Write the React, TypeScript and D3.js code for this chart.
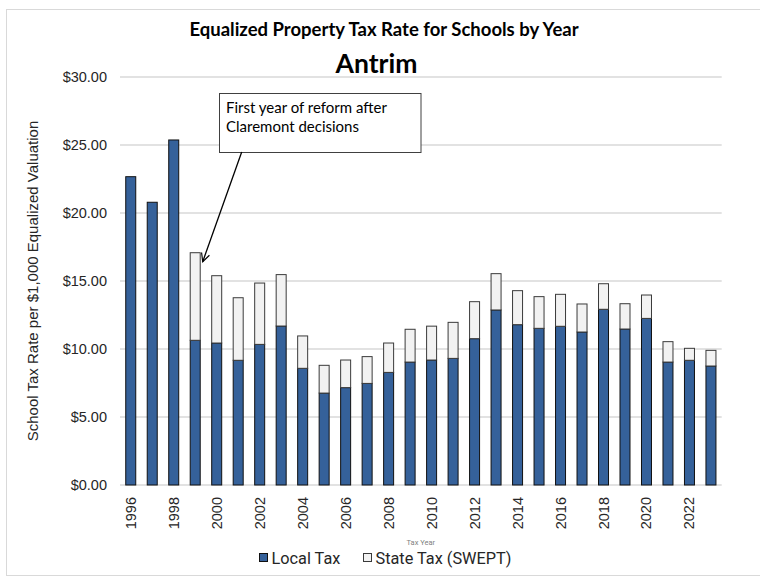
import React from "react";
import * as d3 from "d3";

const years = [
  1996, 1997, 1998, 1999, 2000, 2001, 2002, 2003, 2004, 2005, 2006, 2007, 2008, 2009,
  2010, 2011, 2012, 2013, 2014, 2015, 2016, 2017, 2018, 2019, 2020, 2021, 2022, 2023,
];
const localTax = [
  22.67, 20.79, 25.37, 10.64, 10.44, 9.17, 10.34, 11.69, 8.58, 6.76, 7.16, 7.47, 8.28, 9.04,
  9.19, 9.31, 10.76, 12.87, 11.79, 11.52, 11.67, 11.25, 12.92, 11.47, 12.25, 9.04, 9.17, 8.75,
];
const stateTax = [
  0, 0, 0, 6.44, 4.95, 4.6, 4.51, 3.78, 2.38, 2.04, 2.03, 1.97, 2.16, 2.41,
  2.49, 2.65, 2.72, 2.67, 2.5, 2.33, 2.35, 2.06, 1.88, 1.86, 1.72, 1.5, 0.88, 1.15,
];
const yTicks = [0, 5, 10, 15, 20, 25, 30];
const xLabelYears = years.filter((y) => y % 2 === 0);

const title = "Equalized Property Tax Rate for Schools by Year";
const subtitle = "Antrim";
const yTitle = "School Tax Rate per $1,000 Equalized Valuation";
const xTitle = "Tax Year";
const seriesNames = ["Local Tax", "State Tax (SWEPT)"];
const annotationLines = ["First year of reform after", "Claremont decisions"];
const annotationYear = 1999;

const W = 760;
const H = 581;
const plot = { left: 120, right: 721.7, top: 77, bottom: 485 };

const LOCAL_FILL = "#35619a";
const STATE_FILL = "#f2f2f2";

export default function App() {
  const x = d3
    .scaleBand<number>()
    .domain(years)
    .range([plot.left, plot.right])
    .paddingInner(0.5347)
    .paddingOuter(0.2673);
  const y = d3.scaleLinear().domain([0, 30]).range([plot.bottom, plot.top]);
  const fmt = d3.format("$.2f");

  const stack = d3
    .stack<any>()
    .keys(["local", "state"])(years.map((yr, i) => ({ year: yr, local: localTax[i], state: stateTax[i] })));

  const bw = x.bandwidth();
  const annIdx = years.indexOf(annotationYear);
  const annTopY = y(localTax[annIdx] + stateTax[annIdx]);
  const annX = (x(annotationYear) as number) + bw;

  return (
    <svg
      width={W}
      height={H}
      style={{ position: "absolute", left: 0, top: 0, background: "#fff" }}
    >
      <defs>
        <marker
          id="arrow"
          viewBox="0 0 12 12"
          refX="11"
          refY="6"
          markerWidth="10"
          markerHeight="10"
          markerUnits="userSpaceOnUse"
          orient="auto"
        >
          <path d="M1,1 L11,6 L1,11" fill="none" stroke="#000" strokeWidth="1.4" />
        </marker>
      </defs>
      <rect x={6.5} y={9.5} width={W} height={566} fill="#fff" stroke="#d9d9d9" strokeWidth={1} />

      <text
        x={384}
        y={36}
        textAnchor="middle"
        fontFamily="Lato, 'Open Sans', sans-serif"
        fontWeight="bold"
        fontSize={18.5}
        fill="#000"
      >
        {title}
      </text>
      <text
        x={376.5}
        y={72.5}
        textAnchor="middle"
        fontFamily="Lato, 'Open Sans', sans-serif"
        fontWeight="bold"
        fontSize={26.5}
        fill="#000"
      >
        {subtitle}
      </text>

      {yTicks.map((t) => (
        <g key={t}>
          <line
            x1={plot.left}
            x2={plot.right}
            y1={y(t)}
            y2={y(t)}
            stroke="#d9d9d9"
            strokeWidth={1.3}
          />
          <text
            x={107}
            y={y(t) + 5}
            textAnchor="end"
            fontFamily="'Liberation Sans', Arial, sans-serif"
            fontSize={14.5}
            fill="#262626"
          >
            {fmt(t)}
          </text>
        </g>
      ))}

      <text
        transform={`translate(38,${(plot.top + plot.bottom) / 2}) rotate(-90)`}
        textAnchor="middle"
        fontFamily="'Liberation Sans', Arial, sans-serif"
        fontSize={15}
        fill="#262626"
      >
        {yTitle}
      </text>

      {stack.map((layer, li) => (
        <g key={li}>
          {layer.map((d, i) => {
            const h = y(d[0]) - y(d[1]);
            if (h <= 0.01) return null;
            return (
              <rect
                key={i}
                x={x(years[i]) as number}
                y={y(d[1])}
                width={bw}
                height={h}
                fill={li === 0 ? LOCAL_FILL : STATE_FILL}
                stroke={li === 0 ? "#111" : "#3a3a3a"}
                strokeWidth={1}
              />
            );
          })}
        </g>
      ))}

      {xLabelYears.map((yr) => {
        const cx = (x(yr) as number) + bw / 2;
        return (
          <text
            key={yr}
            transform={`translate(${cx + 5},${plot.bottom + 12}) rotate(-90)`}
            textAnchor="end"
            fontFamily="'Liberation Sans', Arial, sans-serif"
            fontSize={14.5}
            fill="#262626"
          >
            {yr}
          </text>
        );
      })}

      <text
        x={(plot.left + plot.right) / 2}
        y={545}
        textAnchor="middle"
        fontFamily="Roboto, 'Liberation Sans', sans-serif"
        fontSize={7.5}
        fill="#7f7f7f"
      >
        {xTitle}
      </text>

      <g fontFamily="Roboto, 'Liberation Sans', sans-serif" fontSize={16.3} fill="#262626">
        <rect x={259.5} y={553.5} width={8} height={8} fill={LOCAL_FILL} stroke="#111" strokeWidth={1} />
        <text x={271.5} y={563.5}>{seriesNames[0]}</text>
        <rect x={363.5} y={553.5} width={8} height={8} fill={STATE_FILL} stroke="#3a3a3a" strokeWidth={1} />
        <text x={375.5} y={563.5}>{seriesNames[1]}</text>
      </g>

      <rect x={219.5} y={93.5} width={201.5} height={59} fill="#fff" stroke="#404040" strokeWidth={1} />
      {annotationLines.map((l, i) => (
        <text
          key={i}
          x={226}
          y={113 + i * 19}
          fontFamily="Lato, 'Open Sans', sans-serif"
          fontSize={15}
          fill="#000"
        >
          {l}
        </text>
      ))}
      <line
        x1={241.7}
        y1={152}
        x2={annX + 2.5}
        y2={annTopY + 9}
        stroke="#000"
        strokeWidth={1.3}
        markerEnd="url(#arrow)"
      />
    </svg>
  );
}
